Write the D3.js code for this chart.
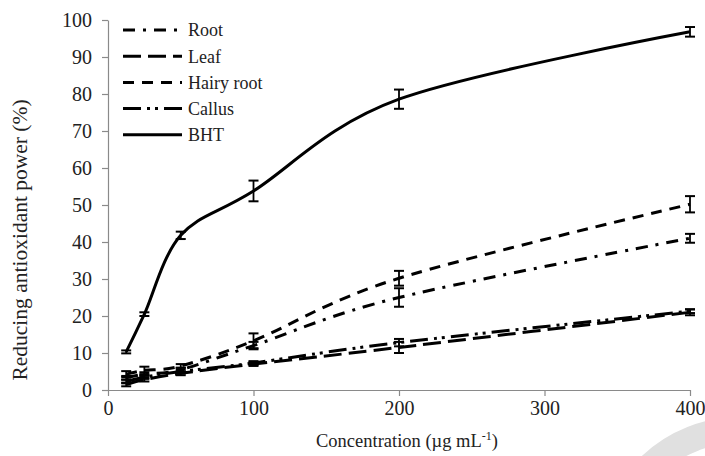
<!DOCTYPE html>
<html>
<head>
<meta charset="utf-8">
<script src="https://cdn.jsdelivr.net/npm/d3@7"></script>
<style>
  body { margin: 0; background: #fff; }
  svg text { font-family: "Liberation Serif", "Times New Roman", "DejaVu Serif", serif; fill: #222; }
</style>
</head>
<body>
<div id="chart"></div>
<script>
// concentrations (ug/mL)
var conc = [12.5, 25, 50, 100, 200, 400];

// series values (%) and error bar half-widths
var rootVals = [3.3, 4.3, 5.5, 12.0, 25.0, 41.0];
var rootErr = [0.5, 0.5, 0.5, 1.0, 2.5, 1.2];
var leafVals = [1.5, 2.8, 4.5, 7.0, 11.5, 21.0];
var leafErr = [0.5, 0.5, 0.5, 0.5, 1.5, 0.8];
var hairyVals = [4.3, 5.3, 6.5, 13.3, 30.2, 50.2];
var hairyErr = [0.8, 1.0, 0.5, 2.0, 2.0, 2.2];
var callusVals = [2.3, 3.5, 5.0, 7.3, 12.8, 21.3];
var callusErr = [0.5, 0.5, 0.5, 0.5, 1.0, 0.5];
var bhtVals = [10.3, 20.5, 41.8, 53.8, 78.6, 96.8];
var bhtErr = [0.4, 0.5, 1.0, 2.8, 2.6, 1.3];

var seriesNames = ["Root", "Leaf", "Hairy root", "Callus", "BHT"];
var xTicks = [0, 100, 200, 300, 400];
var yTicks = [0, 10, 20, 30, 40, 50, 60, 70, 80, 90, 100];

var series = [
  {vals: rootVals, err: rootErr, dash: "12,8,3,8"},
  {vals: leafVals, err: leafErr, dash: "18,7"},
  {vals: hairyVals, err: hairyErr, dash: "11,8"},
  {vals: callusVals, err: callusErr, dash: "18,6,3,5,3,6"},
  {vals: bhtVals, err: bhtErr, dash: null}
];

var W = 705, H = 456;
var FONT = '"Liberation Serif", "Times New Roman", serif';
var svg = d3.select("#chart").append("svg")
  .attr("width", W)
  .attr("height", H);

// grey arc of the watermark in the bottom right corner
svg.append("circle")
  .attr("cx", 740).attr("cy", 560).attr("r", 130)
  .attr("fill", "none").attr("stroke", "#e0e0e0").attr("stroke-width", 26);

var x = d3.scaleLinear().domain([0, 400]).range([108, 690]);
var y = d3.scaleLinear().domain([0, 100]).range([390, 20]);

var axisColor = "#8a8a8a";

var gx = svg.append("g")
  .attr("transform", "translate(0," + y(0) + ")")
  .call(d3.axisBottom(x).tickValues(xTicks).tickSize(6).tickPadding(5).tickSizeOuter(0));
var gy = svg.append("g")
  .attr("transform", "translate(" + x(0) + ",0)")
  .call(d3.axisLeft(y).tickValues(yTicks).tickSize(6).tickPadding(10).tickSizeOuter(0));

[gx, gy].forEach(function(g){
  g.attr("font-family", FONT);
  g.select(".domain").attr("stroke", axisColor).attr("stroke-width", 1.2);
  g.selectAll(".tick line").attr("stroke", axisColor).attr("stroke-width", 1.2);
  g.selectAll(".tick text")
    .attr("font-family", FONT)
    .attr("font-size", 20).attr("fill", "#222");
});

// axis titles
svg.append("text")
  .attr("x", 407).attr("y", 447)
  .attr("text-anchor", "middle")
  .attr("font-family", FONT)
  .attr("font-size", 18.5)
  .html('Concentration (µg mL<tspan dy="-7" font-size="12">-1</tspan><tspan dy="7">)</tspan>');

svg.append("text")
  .attr("transform", "translate(27," + 240 + ")rotate(-90)")
  .attr("text-anchor", "middle")
  .attr("font-family", FONT)
  .attr("font-size", 21.5)
  .text("Reducing antioxidant power (%)");

var line = d3.line()
  .x(function(d){ return x(d[0]); })
  .y(function(d){ return y(d[1]); })
  .curve(d3.curveCatmullRom.alpha(0));

series.forEach(function(s){
  var pts = conc.map(function(c, i){ return [c, s.vals[i]]; });
  svg.append("path")
    .datum(pts)
    .attr("d", line)
    .attr("fill", "none")
    .attr("stroke", "#000")
    .attr("stroke-width", 3)
    .attr("stroke-dasharray", s.dash);

  var eb = svg.append("g");
  conc.forEach(function(c, i){
    var cx = x(c), y0 = y(s.vals[i] - s.err[i]), y1 = y(s.vals[i] + s.err[i]);
    eb.append("line").attr("x1", cx).attr("x2", cx).attr("y1", y0).attr("y2", y1)
      .attr("stroke", "#000").attr("stroke-width", 1.8);
    [y0, y1].forEach(function(yy){
      eb.append("line").attr("x1", cx - 5).attr("x2", cx + 5).attr("y1", yy).attr("y2", yy)
        .attr("stroke", "#000").attr("stroke-width", 2);
    });
  });
});

// legend
var leg = svg.append("g");
series.forEach(function(s, i){
  var ly = 30 + i * 26.2;
  leg.append("line")
    .attr("x1", 123).attr("x2", 182).attr("y1", ly).attr("y2", ly)
    .attr("stroke", "#000").attr("stroke-width", 3)
    .attr("stroke-dasharray", s.dash);
  leg.append("text")
    .attr("x", 188).attr("y", ly)
    .attr("dy", "0.35em")
    .attr("font-family", FONT)
    .attr("font-size", 18)
    .text(seriesNames[i]);
});
</script>
</body>
</html>
